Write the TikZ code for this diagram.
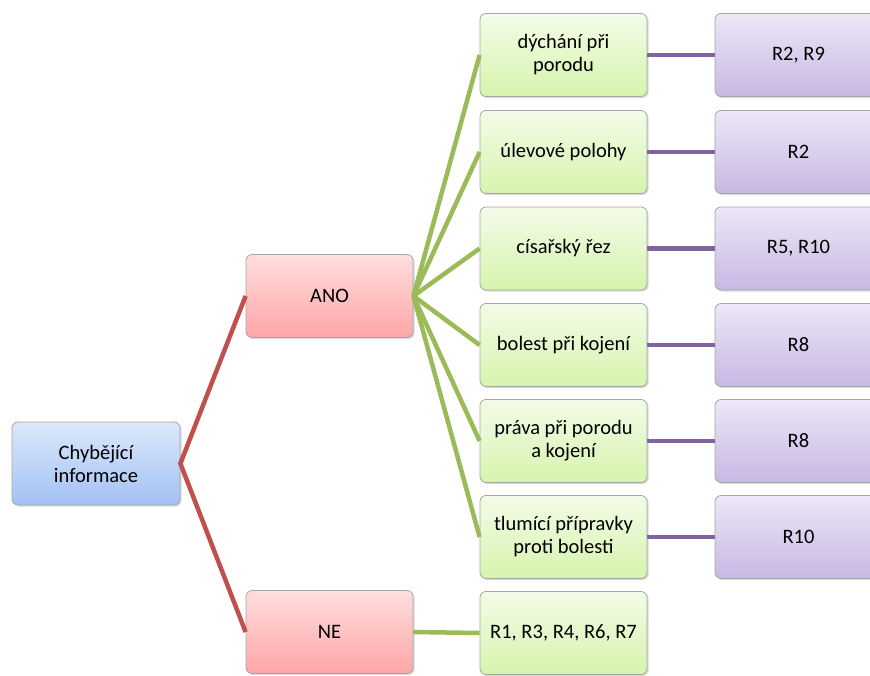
\documentclass[tikz,border=0pt]{standalone}
\usepackage{fontspec}
\setmainfont{Carlito}
\usetikzlibrary{shadows}
\definecolor{redline}{HTML}{C0504D}
\definecolor{greenline}{HTML}{9BBB59}
\definecolor{purpleline}{HTML}{8064A2}
\definecolor{blueTop}{HTML}{DCE8FB}
\definecolor{blueBot}{HTML}{A2C1F4}
\definecolor{redTop}{HTML}{FFDEDE}
\definecolor{redBot}{HTML}{FFA6A6}
\definecolor{greenTop}{HTML}{F3FCE8}
\definecolor{greenBot}{HTML}{D6F4AE}
\definecolor{purpleTop}{HTML}{EDE7F6}
\definecolor{purpleBot}{HTML}{C7B8E4}
\begin{document}
\begin{tikzpicture}[x=1pt,y=-1pt,
  box/.style={rounded corners=6pt, draw=gray!70, line width=0.8pt,
    minimum width=167pt, minimum height=83pt, align=center,
    font=\fontsize{20.5}{23}\selectfont,
    drop shadow={opacity=0.3, shadow xshift=1.5pt, shadow yshift=-1.5pt}},
  rootbox/.style={box, top color=blueTop, bottom color=blueBot},
  answer/.style={box, top color=redTop, bottom color=redBot},
  topic/.style={box, top color=greenTop, bottom color=greenBot},
  refs/.style={box, top color=purpleTop, bottom color=purpleBot},
  redlink/.style={draw=redline, line width=4.5pt},
  greenlink/.style={draw=greenline, line width=4.5pt},
  purplelink/.style={draw=purpleline, line width=4.5pt}]
\useasboundingbox (0,0) rectangle (870,675);

% root and the two answers
\node[rootbox, minimum width=168pt] (root) at (96,463.5) {Chybějící\\informace};
\node[answer] (ano) at (329.5,296) {ANO};
\node[answer] (ne) at (329.5,632) {NE};

% topics under ANO
\node[topic] (t1) at (563.5,55) {dýchání při\\porodu};
\node[topic] (t2) at (563.5,152) {úlevové polohy};
\node[topic] (t3) at (563.5,248.5) {císařský řez};
\node[topic] (t4) at (563.5,345) {bolest při kojení};
\node[topic] (t5) at (563.5,441) {práva při porodu\\a kojení};
\node[topic] (t6) at (563.5,537) {tlumící přípravky\\proti bolesti};
% respondents under NE
\node[topic] (t7) at (563.5,633) {R1, R3, R4, R6, R7};

% respondent references
\node[refs] (p1) at (798.5,55) {R2, R9};
\node[refs] (p2) at (798.5,152) {R2};
\node[refs] (p3) at (798.5,248.5) {R5, R10};
\node[refs] (p4) at (798.5,345) {R8};
\node[refs] (p5) at (798.5,441) {R8};
\node[refs] (p6) at (798.5,537) {R10};

% connectors
\draw[redlink] (ano.west) -- (root.east) -- (ne.west);
\foreach \t in {t1,t2,t3,t4,t5,t6}
  \draw[greenlink] (ano.east) -- (\t.west);
\draw[greenlink] (ne.east) -- (t7.west);
\foreach \i in {1,...,6}
  \draw[purplelink] (t\i.east) -- (p\i.west);
\end{tikzpicture}
\end{document}
